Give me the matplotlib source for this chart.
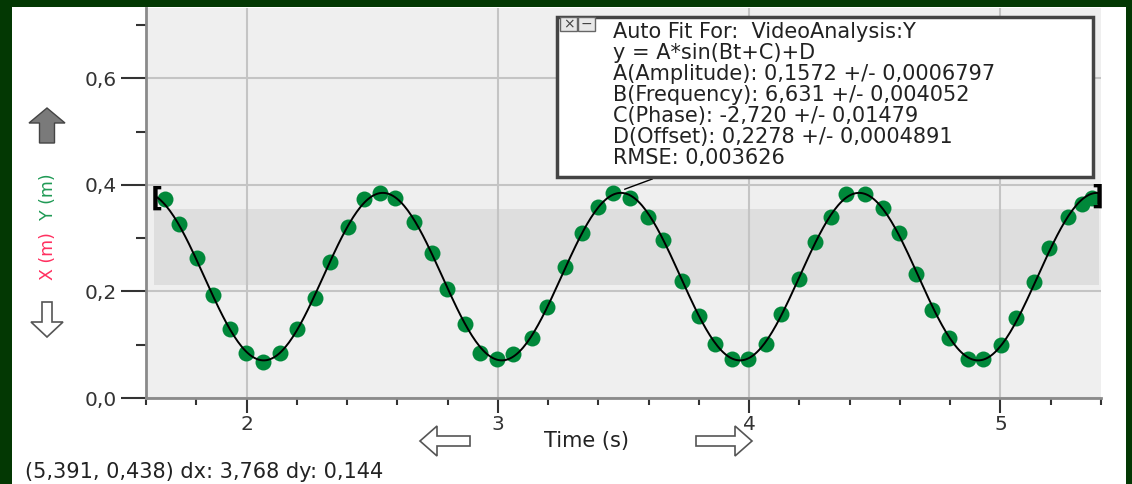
import matplotlib.pyplot as plt
import numpy as np
from matplotlib.patches import Rectangle, FancyArrow

# video analysis points (time in s, Y in m)
t_data = [1.675, 1.733, 1.804, 1.865, 1.936, 1.997, 2.066, 2.132, 2.201, 2.271, 2.334, 2.402,
          2.466, 2.530, 2.592, 2.665, 2.738, 2.797, 2.870, 2.930, 2.998, 3.062, 3.135, 3.195,
          3.267, 3.334, 3.400, 3.459, 3.526, 3.598, 3.658, 3.731, 3.801, 3.863, 3.930, 3.996,
          4.066, 4.128, 4.198, 4.261, 4.327, 4.387, 4.459, 4.532, 4.596, 4.665, 4.728, 4.797,
          4.870, 4.929, 5.002, 5.062, 5.132, 5.194, 5.267, 5.324, 5.366]
y_data = [0.373, 0.326, 0.262, 0.194, 0.129, 0.085, 0.068, 0.085, 0.129, 0.188, 0.255, 0.321,
          0.373, 0.385, 0.375, 0.331, 0.272, 0.204, 0.138, 0.085, 0.074, 0.083, 0.113, 0.171,
          0.246, 0.309, 0.358, 0.385, 0.375, 0.340, 0.296, 0.219, 0.153, 0.101, 0.074, 0.074,
          0.101, 0.157, 0.224, 0.293, 0.340, 0.383, 0.383, 0.356, 0.310, 0.232, 0.166, 0.112,
          0.074, 0.074, 0.099, 0.151, 0.218, 0.282, 0.339, 0.365, 0.375]

# fit parameters from the auto fit box
A = 0.1572
B = 6.631
C = -2.720
D = 0.2278
sel_start, sel_end = 1.623, 5.391
band_y = [0.2116, 0.3544]

fit_lines = ['Auto Fit For:  VideoAnalysis:Y',
             'y = A*sin(Bt+C)+D',
             'A(Amplitude): 0,1572 +/- 0,0006797',
             'B(Frequency): 6,631 +/- 0,004052',
             'C(Phase): -2,720 +/- 0,01479',
             'D(Offset): 0,2278 +/- 0,0004891',
             'RMSE: 0,003626']
status = '(5,391, 0,438) dx: 3,768 dy: 0,144'

W, H = 1132, 484
def fx(x): return x / W
def fy(y): return 1 - y / H
# pixel (from top-left) to inches for shapes that need equal scaling
def ix(x): return x / 100
def iy(y): return (H - y) / 100

fig = plt.figure(figsize=(W / 100, H / 100), dpi=100)
fig.patch.set_facecolor('white')
ax = fig.add_axes([fx(146), fy(398), fx(1101) - fx(146), fy(8) - fy(398)])
ax.set_facecolor('#efefef')
ax.set_xlim(1.602, 5.393)
ax.set_ylim(0, 0.732)

ax.add_patch(Rectangle((1.63, band_y[0]), 5.393 - 1.63, band_y[1] - band_y[0],
                       facecolor='#dedede', edgecolor='none', zorder=0))
ax.set_xticks([2, 3, 4, 5])
ax.set_xticks(np.arange(1.6, 5.41, 0.2), minor=True)
ax.set_yticks([0.0, 0.2, 0.4, 0.6])
ax.set_yticks([0.1, 0.3, 0.5, 0.7], minor=True)
ax.set_yticklabels(['0,0', '0,2', '0,4', '0,6'])
ax.set_xticklabels(['2', '3', '4', '5'])
ax.grid(True, which='major', color='#c4c4c4', lw=1.5, zorder=0.5)
ax.set_axisbelow(True)
ax.tick_params(axis='y', which='major', length=18, width=1.5, color='#333333', labelsize=14.5,
               labelcolor='#333333', pad=3)
ax.tick_params(axis='y', which='minor', length=7, width=1.5, color='#333333')
ax.tick_params(axis='x', which='major', length=11, width=1.5, color='#333333', labelsize=14.5,
               labelcolor='#333333', pad=1)
ax.tick_params(axis='x', which='minor', length=5, width=1.5, color='#333333')
for s in ['top', 'right']:
    ax.spines[s].set_visible(False)
for s in ['left', 'bottom']:
    ax.spines[s].set_color('#8a8a8a')
    ax.spines[s].set_linewidth(2)

t_fit = np.linspace(sel_start + 0.02, sel_end, 500)
ax.plot(t_fit, A * np.sin(B * t_fit + C) + D, color='black', lw=1.4, zorder=3)
ax.plot(t_data, y_data, 'o', color='#00883a', markersize=11.5, markeredgewidth=0, zorder=2)

ax.text(sel_start + 0.02, 0.375, '[', fontsize=19, fontweight='bold', ha='center', va='center', zorder=4)
ax.text(sel_end - 0.005, 0.377, ']', fontsize=19, fontweight='bold', ha='center', va='center', zorder=4)

# fit box
box = Rectangle((fx(557), fy(177)), fx(1093) - fx(557), fy(17) - fy(177), transform=fig.transFigure,
                facecolor='white', edgecolor='#444444', lw=2.5, zorder=5)
fig.patches.append(box)
for x0, ch in [(560, '×'), (578, '−')]:
    fig.patches.append(Rectangle((fx(x0), fy(31)), fx(17), 14 / H, transform=fig.transFigure,
                                 facecolor='#e8e8e8', edgecolor='#666666', lw=1, zorder=6))
    fig.text(fx(x0 + 8.5), fy(24), ch, fontsize=10, ha='center', va='center', color='#444444', zorder=7)
for i, line in enumerate(fit_lines):
    fig.text(fx(613), fy(32 + 21 * i), line, fontsize=15, ha='left', va='center', color='#222222', zorder=7)
ax.annotate('', xy=(3.494, 0.39), xytext=(fx(655), fy(178)), textcoords='figure fraction',
            arrowprops=dict(arrowstyle='-', color='black', lw=1), zorder=4)

# axis labels
fig.text(fx(587), fy(441), 'Time (s)', fontsize=15, ha='center', va='center', color='#222222')
fig.text(fx(48), fy(197), 'Y (m)', rotation=90, fontsize=12.5, color='#1f9a55', ha='center', va='center')
fig.text(fx(48), fy(256), 'X (m)', rotation=90, fontsize=12.5, color='#ff3060', ha='center', va='center')
fig.text(fx(25), fy(472), status, fontsize=15, ha='left', va='center', color='#222222')

# scroll arrows
arrow_kw = dict(length_includes_head=True, transform=fig.dpi_scale_trans)
fig.patches.append(FancyArrow(ix(47), iy(143), 0, (143 - 108) / 100, width=0.15, head_width=0.36,
                              head_length=0.15, facecolor='#7a7a7a', edgecolor='#444444', lw=1, **arrow_kw))
fig.patches.append(FancyArrow(ix(47), iy(302), 0, -(337 - 302) / 100, width=0.10, head_width=0.32,
                              head_length=0.15, facecolor='white', edgecolor='#555555', lw=1.2, **arrow_kw))
fig.patches.append(FancyArrow(ix(470), iy(441), -(470 - 420) / 100, 0, width=0.10, head_width=0.30,
                              head_length=0.17, facecolor='white', edgecolor='#555555', lw=1.2, **arrow_kw))
fig.patches.append(FancyArrow(ix(696), iy(441), (752 - 696) / 100, 0, width=0.10, head_width=0.30,
                              head_length=0.17, facecolor='white', edgecolor='#555555', lw=1.2, **arrow_kw))

# dark green frame
green = '#033803'
fig.patches.append(Rectangle((0, 0), fx(12), 1, transform=fig.transFigure, facecolor=green, edgecolor='none'))
fig.patches.append(Rectangle((0, fy(7)), 1, 7 / H, transform=fig.transFigure, facecolor=green, edgecolor='none'))
fig.patches.append(Rectangle((fx(1126), 0), fx(6), 1, transform=fig.transFigure, facecolor=green, edgecolor='none'))

plt.savefig('out.png', dpi=100)
